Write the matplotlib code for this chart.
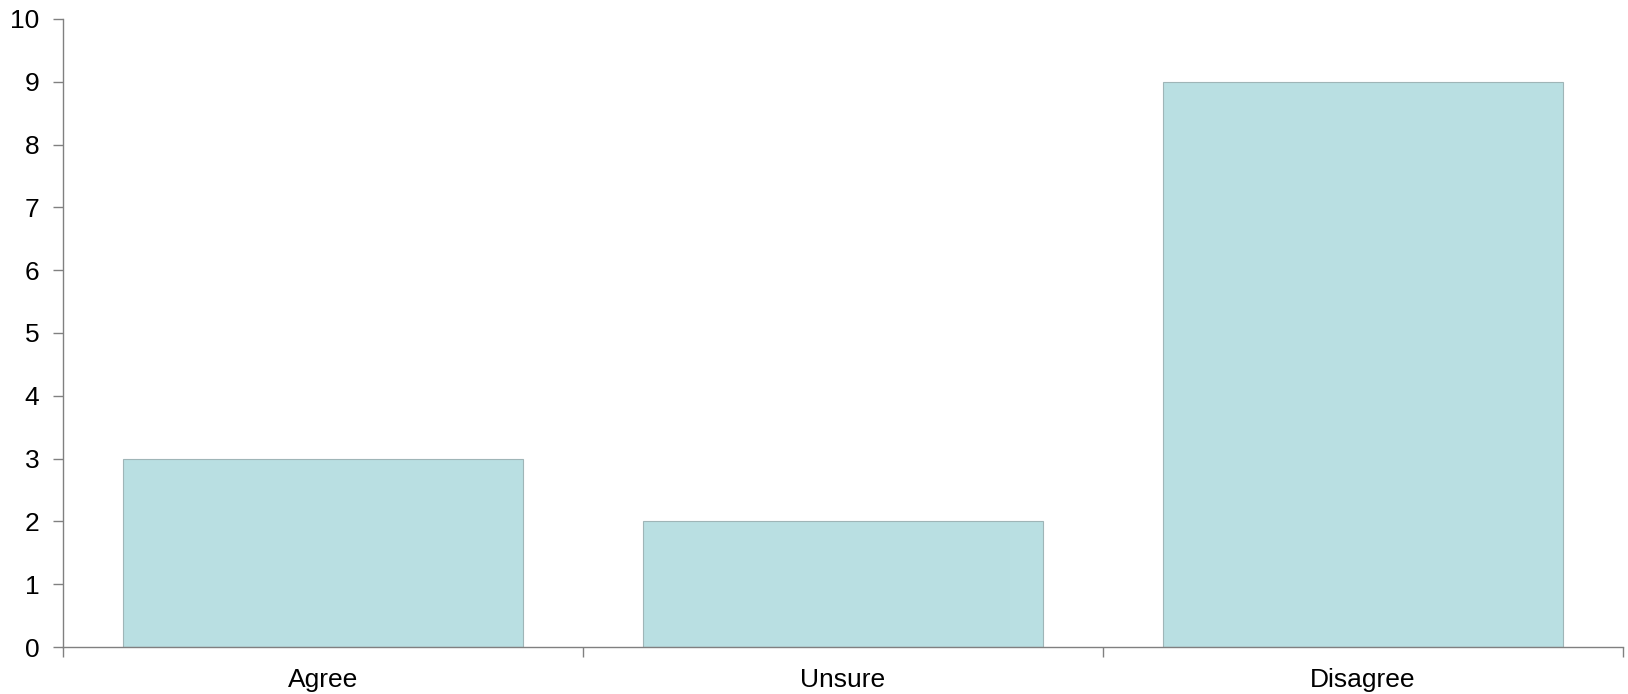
import numpy as np
import matplotlib.pyplot as plt

categories = ['Agree', 'Unsure', 'Disagree']
counts = [3, 2, 9]

plt.rcParams['font.family'] = ['Liberation Sans', 'DejaVu Sans']

fig = plt.figure(figsize=(16.28, 6.94), dpi=100)
ax = fig.add_axes([0.0387, 0.0677, 0.9583, 0.9050])

x = np.arange(len(categories))
ax.bar(x, counts, width=0.77, color='#b9dfe2', edgecolor='#9fb5b7', linewidth=0.8)

ax.set_xlim(-0.5, len(categories) - 0.5)
ax.set_ylim(0, 10)
ax.set_yticks(range(0, 11))

ax.set_xticks(x)
ax.set_xticklabels(categories)
ax.set_xticks(np.arange(-0.5, len(categories)), minor=True)
ax.tick_params(axis='x', which='major', length=0, pad=15)
ax.tick_params(axis='x', which='minor', length=7, width=1, color='#808080', direction='out')
ax.tick_params(axis='y', length=7, width=1, color='#808080', direction='out', pad=10)
ax.tick_params(labelsize=19, labelcolor='black')

for side in ['top', 'right']:
    ax.spines[side].set_visible(False)
for side in ['left', 'bottom']:
    ax.spines[side].set_color('#808080')
    ax.spines[side].set_linewidth(1)

fig.savefig('out.png', dpi=100)
